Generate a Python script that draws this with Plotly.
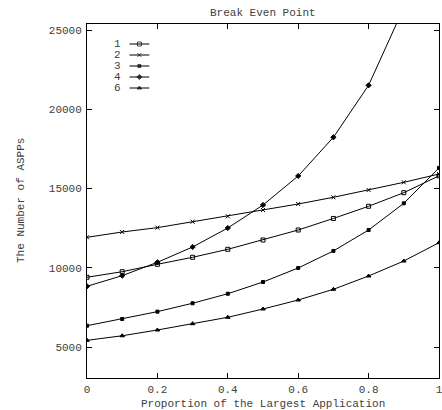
import plotly.graph_objects as go

# ---- data ----
x_vals = [0.0, 0.1, 0.2, 0.3, 0.4, 0.5, 0.6, 0.7, 0.8, 0.9, 1.0]
series_names = ["1", "2", "3", "4", "6"]
s1 = [9400, 9750, 10217, 10660, 11164, 11750, 12382, 13110, 13880, 14735, 15800]
s2 = [11920, 12256, 12530, 12905, 13245, 13643, 14022, 14445, 14905, 15390, 15915]
s3 = [6344, 6767, 7230, 7760, 8360, 9100, 9985, 11060, 12380, 14066, 16300]
s4 = [8830, 9500, 10343, 11310, 12508, 13959, 15789, 18230, 21510, 26410, 33500]
s6 = [5420, 5710, 6073, 6470, 6874, 7397, 7965, 8640, 9479, 10426, 11580]
x_ticks = [0, 0.2, 0.4, 0.6, 0.8, 1.0]
x_tick_labels = ["0", "0.2", "0.4", "0.6", "0.8", "1"]
y_ticks = [5000, 10000, 15000, 20000, 25000]
y_tick_labels = ["5000", "10000", "15000", "20000", "25000"]

series = [s1, s2, s3, s4, s6]
symbols = ["square-open", "x-thin-open", "square", "diamond", "triangle-up"]
msizes = [4, 4, 3, 4, 4]

FONT = "Liberation Mono, Courier New, monospace"
TXT = "#404040"

W, H = 446, 410
L, R, T, B = 87, 3, 24, 32

fig = go.Figure()
for name, ys, sym, ms in zip(series_names, series, symbols, msizes):
    fig.add_trace(go.Scatter(
        x=x_vals, y=ys, mode="lines+markers", name=name,
        line=dict(color="black", width=1),
        marker=dict(symbol=sym, size=ms, color="black",
                    line=dict(color="black", width=1)),
        showlegend=False, hoverinfo="skip"))

# legend (drawn manually, text left of sample as in reference)
leg_x0, leg_x1, leg_xm, leg_tx = 130, 150, 140, 118
leg_y0, leg_dy = 44, 11
for i, (name, sym, ms) in enumerate(zip(series_names, symbols, msizes)):
    yy = leg_y0 + i * leg_dy
    fig.add_trace(go.Scatter(
        x=[leg_x0, leg_xm, leg_x1], y=[yy, yy, yy], xaxis="x2", yaxis="y2",
        mode="lines+markers", line=dict(color="black", width=1),
        marker=dict(symbol=sym, size=[0, ms, 0], color="black",
                    line=dict(color="black", width=1)),
        showlegend=False, hoverinfo="skip"))
    fig.add_annotation(x=leg_tx, y=yy, xref="x2", yref="y2", text=name,
                       showarrow=False, xanchor="center", yanchor="middle",
                       font=dict(family=FONT, size=11, color=TXT))

axis_common = dict(showgrid=False, zeroline=False, showline=True,
                   linecolor="black", linewidth=1, mirror="ticks",
                   ticks="inside", ticklen=5, tickcolor="black",
                   tickfont=dict(family=FONT, size=11, color=TXT))

fig.update_layout(
    width=W, height=H,
    margin=dict(l=L, r=R, t=T, b=B, pad=0),
    paper_bgcolor="white", plot_bgcolor="white",
    xaxis=dict(range=[0, 1], tickvals=x_ticks, ticktext=x_tick_labels,
               ticklabelstandoff=1, ticklabeloverflow="allow", **axis_common),
    yaxis=dict(range=[3044, 25379], tickvals=y_ticks, ticktext=y_tick_labels,
               ticklabelstandoff=2, **axis_common),
    xaxis2=dict(overlaying="x", range=[L, W - R], visible=False, fixedrange=True),
    yaxis2=dict(overlaying="y", range=[H - B, T], visible=False, fixedrange=True),
)

fig.add_annotation(text="Break Even Point", xref="paper", yref="paper",
                   x=0.5, y=1, xanchor="center", yanchor="bottom", yshift=3,
                   showarrow=False, font=dict(family=FONT, size=11, color=TXT))
fig.add_annotation(text="Proportion of the Largest Application", xref="paper",
                   yref="paper", x=0.5, y=0, xanchor="center", yanchor="top",
                   yshift=-18, showarrow=False,
                   font=dict(family=FONT, size=11, color=TXT))
fig.add_annotation(text="The Number of ASPPs", xref="paper", yref="paper",
                   x=0, y=0.5, xanchor="center", yanchor="middle", textangle=-90,
                   xshift=-(L - 21), showarrow=False,
                   font=dict(family=FONT, size=11, color=TXT))

fig.write_html("out.html", config={"displayModeBar": False},
               post_script="document.body.style.margin='0';document.body.style.overflow='hidden';")
